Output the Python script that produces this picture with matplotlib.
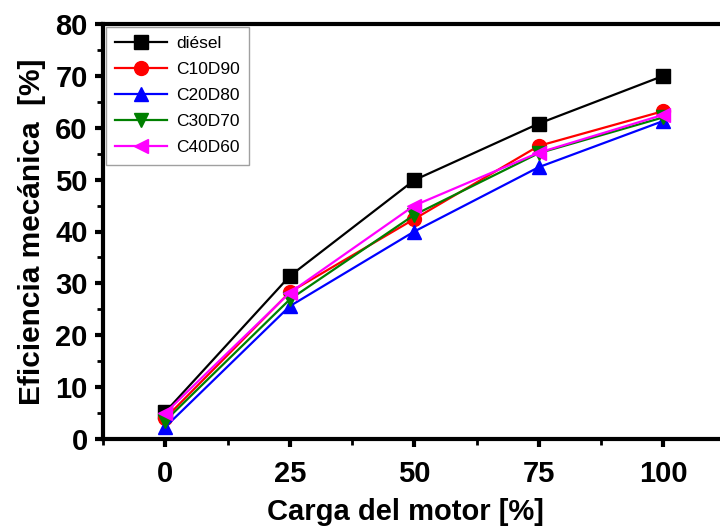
import matplotlib.pyplot as plt
from matplotlib.ticker import MultipleLocator

plt.rcParams['font.family'] = ['Liberation Sans', 'DejaVu Sans']

# engine load [%]
carga = [0, 25, 50, 75, 100]

# mechanical efficiency [%] per fuel blend
diesel = [5.2, 31.4, 49.9, 60.8, 70.0]
c10d90 = [4.0, 28.3, 42.4, 56.5, 63.2]
c20d80 = [2.3, 25.6, 40.0, 52.4, 61.3]
c30d70 = [3.5, 26.9, 43.2, 55.1, 62.0]
c40d60 = [5.0, 28.2, 45.0, 55.2, 62.5]

series = [
    ("diésel", diesel, "black", "s"),
    ("C10D90", c10d90, "red", "o"),
    ("C20D80", c20d80, "blue", "^"),
    ("C30D70", c30d70, "green", "v"),
    ("C40D60", c40d60, "magenta", "<"),
]

fig = plt.figure(figsize=(7.2, 5.29), dpi=100)
ax = fig.add_axes([103 / 720, 90 / 529, 622.5 / 720, 415 / 529])

for name, vals, col, mk in series:
    ax.plot(carga, vals, color=col, marker=mk, markersize=10,
            linewidth=1.6, label=name)

ax.set_xlim(-12.5, 112.5)
ax.set_ylim(0, 80)
ax.set_xticks(carga)
ax.xaxis.set_minor_locator(MultipleLocator(12.5))
ax.yaxis.set_major_locator(MultipleLocator(10))
ax.yaxis.set_minor_locator(MultipleLocator(5))

for s in ax.spines.values():
    s.set_linewidth(3)
ax.tick_params(which="major", direction="out", length=6, width=3,
               labelsize=21, pad=5)
ax.tick_params(axis="x", which="major", pad=9)
ax.tick_params(which="minor", direction="out", length=4, width=2)
for lbl in ax.get_xticklabels() + ax.get_yticklabels():
    lbl.set_fontweight("bold")

ax.set_xlabel("Carga del motor [%]", fontsize=21, fontweight="bold")
ax.xaxis.set_label_coords((405 - 103) / 622.5, -0.142)
ax.set_ylabel("Eficiencia mecánica  [%]", fontsize=21.5, fontweight="bold", labelpad=7)

leg = ax.legend(loc="upper left", fontsize=12.5, frameon=True, fancybox=False,
                borderaxespad=0.15, handlelength=3.0, labelspacing=0.62,
                borderpad=0.55, handletextpad=0.5)
leg.get_frame().set_edgecolor("#888888")
leg.get_frame().set_linewidth(1)

fig.savefig("out.png", dpi=100)
